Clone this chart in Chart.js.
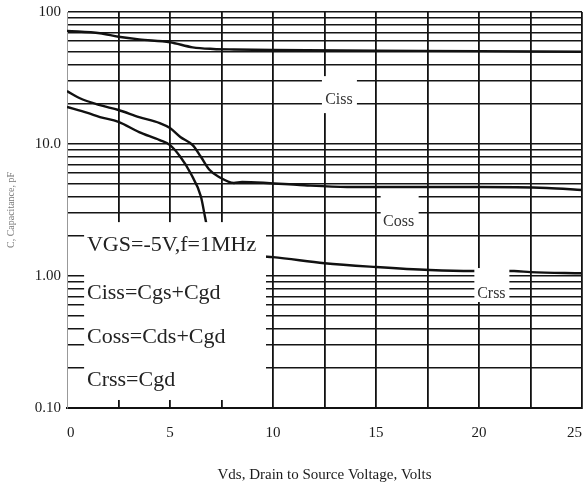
<!DOCTYPE html>
<html>
<head>
<meta charset="utf-8">
<script src="https://cdn.jsdelivr.net/npm/chart.js@4/dist/chart.umd.min.js"></script>
<style>
  body { margin: 0; background: #fff; }
  #wrap { width: 584px; height: 486px; }
</style>
</head>
<body>
<div id="wrap"><canvas id="capChart" width="584" height="486"></canvas></div>
<script>
// Curve data (Vds in volts, capacitance in pF)
const cissVds = [0, 1.6, 2.5, 3.5, 5, 6.1, 7.1, 8.1, 10, 15, 20, 25];
const cissPf  = [72, 69, 65, 62, 59, 54, 52.5, 52, 51.5, 51, 50.5, 50];

const cossVds = [0, 0.6, 1.6, 2.5, 3.5, 4.5, 5, 5.5, 6.1, 6.5, 6.9, 7.4, 8.1, 8.5, 9.7, 11.3, 13.6, 20, 23.3, 25];
const cossPf  = [25.2, 22.3, 19.7, 18.1, 16.0, 14.4, 13.2, 11.3, 9.8, 8.0, 6.4, 5.6, 5.07, 5.15, 5.07, 4.89, 4.72, 4.72, 4.64, 4.48];

const crssVds = [0, 1, 1.6, 2.5, 3.5, 4.5, 5, 5.5, 6, 6.5, 6.7, 6.85, 7.1, 7.6, 8.5, 10, 12.5, 15, 17.6, 19.7, 21.7, 22.5, 25];
const crssPf  = [19.1, 17.2, 16.0, 14.7, 12.3, 10.7, 9.8, 8.0, 6.0, 4.0, 2.8, 2.16, 1.7, 1.52, 1.44, 1.39, 1.25, 1.17, 1.11, 1.09, 1.09, 1.07, 1.05];

// Axis ticks
const xTickValues = [0, 2.5, 5, 7.5, 10, 12.5, 15, 17.5, 20, 22.5, 25];
const xLabelValues = [0, 5, 10, 15, 20, 25];
const yGridValues = [0.1, 0.2, 0.3, 0.4, 0.5, 0.6, 0.7, 0.8, 0.9,
                     1, 2, 3, 4, 5, 6, 7, 8, 9,
                     10, 20, 30, 40, 50, 60, 70, 80, 90, 100];
const yLabelValues = [0.1, 1, 10, 100];
const yLabelTexts  = ['0.10', '1.00', '10.0', '100'];

// Notes on the plot
const curveNames = ['Ciss', 'Coss', 'Crss'];
const legendLines = ['VGS=-5V,f=1MHz', 'Ciss=Cgs+Cgd', 'Coss=Cds+Cgd', 'Crss=Cgd'];

const serif = "'Liberation Serif', 'DejaVu Serif', serif";
const ink = '#1b1b1b';

function pairs(xs, ys) {
    return xs.map((v, i) => ({ x: v, y: ys[i] }));
}

function curve(label, xs, ys) {
    return {
        label: label,
        data: pairs(xs, ys),
        borderColor: '#111',
        borderWidth: 2.4,
        pointRadius: 0,
        fill: false,
        cubicInterpolationMode: 'monotone'
    };
}

// white patches with text over the grid, anchored in data units
const notesPlugin = {
    id: 'notes',
    afterDatasetsDraw(chart) {
        const { ctx, scales: { x, y } } = chart;
        ctx.save();

        // condition box
        const bx0 = x.getPixelForValue(0.83), bx1 = x.getPixelForValue(9.66);
        const by0 = y.getPixelForValue(2.56), by1 = y.getPixelForValue(0.115);
        ctx.fillStyle = '#fff';
        ctx.fillRect(bx0, by0, bx1 - bx0, by1 - by0);

        ctx.fillStyle = '#222';
        ctx.font = '22px ' + serif;
        ctx.textAlign = 'left';
        ctx.textBaseline = 'middle';
        const lineVals = [1.72, 0.743, 0.345, 0.163];
        legendLines.forEach((t, i) => {
            ctx.fillText(t, x.getPixelForValue(0.97), y.getPixelForValue(lineVals[i]));
        });

        // curve labels
        const spots = [
            { v: 13.2, c: 21.5, box: [-17, -24, 18, 13] },
            { v: 16.1, c: 2.56, box: [-18, -29, 20, 11] },
            { v: 20.6, c: 0.73, box: [-17, -26, 18, 8] }
        ];
        ctx.font = '16px ' + serif;
        ctx.textAlign = 'center';
        spots.forEach((s, i) => {
            const px = x.getPixelForValue(s.v), py = y.getPixelForValue(s.c);
            ctx.fillStyle = '#fff';
            ctx.fillRect(px + s.box[0], py + s.box[1], s.box[2] - s.box[0], s.box[3] - s.box[1]);
            ctx.fillStyle = '#333';
            ctx.fillText(curveNames[i], px, py);
        });
        ctx.restore();
    }
};

const ctx = document.getElementById('capChart').getContext('2d');
new Chart(ctx, {
    type: 'line',
    data: {
        datasets: [
            curve('Ciss', cissVds, cissPf),
            curve('Coss', cossVds, cossPf),
            curve('Crss', crssVds, crssPf)
        ]
    },
    options: {
        responsive: false,
        animation: false,
        layout: { padding: { top: 12, right: 2, left: 0, bottom: 0 } },
        plugins: { legend: { display: false }, tooltip: { enabled: false } },
        scales: {
            x: {
                type: 'linear',
                min: 0,
                max: 25,
                afterBuildTicks: scale => { scale.ticks = xTickValues.map(v => ({ value: v })); },
                afterFit: scale => {
                    scale.height = 78;
                    scale.paddingLeft = 0;
                    scale.paddingRight = 0;
                },
                ticks: {
                    autoSkip: false,
                    maxRotation: 0,
                    align: 'inner',
                    padding: 16,
                    color: ink,
                    font: { family: serif, size: 15 },
                    callback: v => xLabelValues.includes(v) ? String(v) : ''
                },
                grid: {
                    drawTicks: false,
                    color: c => (c.tick && c.tick.value === 0) ? 'rgba(0,0,0,0)' : '#111',
                    lineWidth: 1.8
                },
                border: { color: '#111', width: 2 },
                title: {
                    display: true,
                    text: 'Vds, Drain to Source Voltage, Volts',
                    color: ink,
                    font: { family: serif, size: 15 },
                    padding: { top: 24, bottom: 2 }
                }
            },
            y: {
                type: 'logarithmic',
                min: 0.1,
                max: 100,
                afterBuildTicks: scale => { scale.ticks = yGridValues.map(v => ({ value: v })); },
                afterFit: scale => {
                    scale.width = 67;
                    scale.paddingTop = 0;
                    scale.paddingBottom = 0;
                },
                ticks: {
                    autoSkip: false,
                    padding: 6,
                    color: ink,
                    font: { family: serif, size: 15 },
                    callback: v => {
                        const k = yLabelValues.indexOf(v);
                        return k >= 0 ? yLabelTexts[k] : '';
                    }
                },
                grid: {
                    drawTicks: false,
                    color: '#151515',
                    lineWidth: 1.6
                },
                border: { color: '#999', width: 1 },
                title: {
                    display: true,
                    text: 'C, Capacitance, pF',
                    color: '#777',
                    font: { family: serif, size: 10 },
                    padding: { top: 5, bottom: 0 }
                }
            }
        }
    },
    plugins: [notesPlugin]
});
</script>
</body>
</html>
